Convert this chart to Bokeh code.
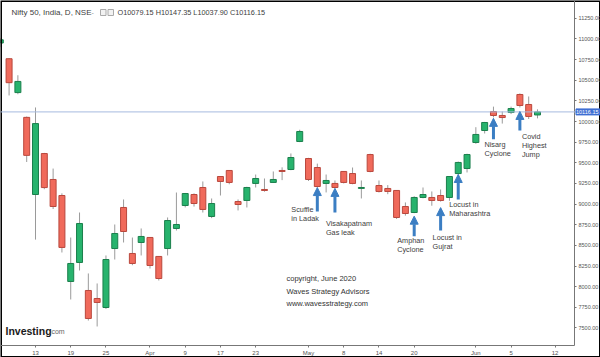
from bokeh.plotting import figure
from bokeh.models import (Range1d, FixedTicker, Span, Label, Arrow, NormalHead, ColumnDataSource,
                          LinearAxis)
from bokeh.embed import file_html
from bokeh.resources import INLINE

# ---------------- data ----------------
dates = ["Mar 6", "Mar 9", "Mar 11", "Mar 12", "Mar 13", "Mar 16", "Mar 17", "Mar 18", "Mar 19", "Mar 20",
         "Mar 23", "Mar 24", "Mar 25", "Mar 26", "Mar 27", "Mar 30", "Mar 31", "Apr 1", "Apr 3", "Apr 7",
         "Apr 8", "Apr 9", "Apr 13", "Apr 15", "Apr 16", "Apr 17", "Apr 20", "Apr 21", "Apr 22", "Apr 23",
         "Apr 24", "Apr 27", "Apr 28", "Apr 29", "Apr 30", "May 4", "May 5", "May 6", "May 7", "May 8",
         "May 11", "May 12", "May 13", "May 14", "May 15", "May 18", "May 19", "May 20", "May 21", "May 22",
         "May 26", "May 27", "May 28", "May 29", "Jun 1", "Jun 2", "Jun 3", "Jun 4", "Jun 5", "Jun 8",
         "Jun 9", "Jun 10"]
opens = [10950, 10760, 10350, 10050, 9116, 9612, 9298, 9104, 8063, 8293,
         7954, 7857, 7748, 8462, 8959, 8402, 8535, 8596, 8366, 8462,
         8705, 8983, 9116, 9201, 8850, 9334, 9407, 9031, 9044, 9250,
         9177, 9262, 9407, 9419, 9758, 9552, 9443, 9250, 9250, 9395,
         9370, 9190, 9600, 9225, 9189, 9165, 8971, 8898, 9080, 9080,
         9104, 9080, 9370, 9431, 9746, 9891, 10121, 10073, 10109, 10327,
         10206, 10079.15]
highs = [11010, 10765, 10560, 10060, 10170, 9620, 9430, 9130, 8595, 8898,
         8160, 8039, 8378, 8753, 9056, 8595, 8705, 8600, 8370, 8838,
         9140, 9135, 9130, 9274, 9068, 9340, 9410, 9056, 9210, 9358,
         9310, 9395, 9445, 9613, 9900, 9560, 9490, 9358, 9286, 9400,
         9443, 9286, 9610, 9286, 9230, 9170, 9020, 9095, 9201, 9153,
         9177, 9340, 9515, 9610, 9931, 9995, 10180, 10121, 10180, 10340,
         10303, 10147.35]
lows = [10900, 10315, 10330, 9510, 8570, 9180, 8940, 8414, 7845, 8196,
        7590, 7518, 7730, 8329, 8535, 8260, 8378, 8220, 8075, 8378,
        8680, 8960, 8970, 8898, 8830, 9104, 9240, 8923, 8959, 9201,
        9150, 9255, 9290, 9410, 9750, 9280, 9200, 9141, 9190, 9250,
        9240, 9068, 9385, 9140, 9120, 8820, 8860, 8890, 9070, 8980,
        9030, 9040, 9310, 9383, 9730, 9855, 10050, 9975, 10090, 10170,
        10030, 10037.90]
closes = [10989, 10470, 10485, 9590, 9975, 9200, 8971, 8475, 8281, 8765,
          7615, 7809, 8329, 8644, 8668, 8281, 8608, 8257, 8099, 8801,
          8753, 9128, 9007, 8935, 9007, 9274, 9262, 8995, 9201, 9310,
          9165, 9298, 9395, 9564, 9879, 9298, 9213, 9286, 9201, 9262,
          9250, 9201, 9395, 9153, 9153, 8838, 8886, 9080, 9116, 9044,
          9044, 9334, 9504, 9600, 9843, 9988, 10073, 10048, 10157, 10194,
          10061, 10116.15]

x_tick_dates = ["Mar 13", "Mar 19", "Mar 25", "Apr 1", "Apr 9", "Apr 17", "Apr 23", "May 4", "May 8",
                "May 14", "May 20", "Jun 1", "Jun 5", "Jun 12"]
x_tick_labels = ["13", "19", "25", "Apr", "9", "17", "23", "May", "8", "14", "20", "Jun", "5", "12"]
y_ticks = [7500, 7750, 8000, 8250, 8500, 8750, 9000, 9250, 9500, 9750, 10000, 10250, 10500, 10750, 11000, 11250]

event_dates = ["May 5", "May 7", "May 20", "May 26", "May 28", "Jun 3", "Jun 8"]
event_labels = [["Scuffle", "in Ladak"], ["Visakapatnam", "Gas leak"], ["Amphan", "Cyclone"],
                ["Locust in", "Gujrat"], ["Locust in", "Maharashtra"], ["Nisarg", "Cyclone"],
                ["Covid", "Highest", "Jump"]]

title_text = "Nifty 50, India, D, NSE"
copyright_lines = ["copyright, June 2020", "Waves Strategy Advisors", "www.wavesstrategy.com"]

# ---------------- layout (pixel <-> data mapping) ----------------
W, H = 600, 357
AX_X, AX_Y = 574, 345          # pixel position of the price axis and the time axis
PX_PER_BAR = 8.807
PX_PER_PT = 0.08259


def xd(px):
    return 4 + (px - 35) / PX_PER_BAR


def yd(py):
    return 10000 - (py - 121) / PX_PER_PT


def ypx(v):
    return 121 - (v - 10000) * PX_PER_PT


def xpx(i):
    return 35 + (i - 4) * PX_PER_BAR


all_dates = dates + ["Jun 11", "Jun 12", "Jun 15", "Jun 16", "Jun 17"]
idx = list(range(len(dates)))

UP_FILL, UP_LINE = "#27b36d", "#1b7f4c"
DN_FILL, DN_LINE = "#f06a5b", "#b9483d"
WICK = "#9a9a9a"
TXT = "#404040"
AXC = "#777777"
ARROW = "#3b7ec3"
FONT = "Liberation Sans"

p = figure(width=W, height=H, output_backend="svg", toolbar_location=None,
           x_range=Range1d(xd(0), xd(W)), y_range=Range1d(yd(H), yd(0)),
           x_axis_location=None, y_axis_location=None,
           min_border=0, min_border_left=0, min_border_right=0, min_border_top=0, min_border_bottom=0)
p.xgrid.visible = False
p.ygrid.visible = False
p.outline_line_color = None
p.background_fill_color = "white"
p.border_fill_color = "white"

# reference line at last close
p.add_layout(Span(location=closes[-1], dimension="width", line_color="#a6badf", line_width=1))

up = [c >= o for o, c in zip(opens, closes)]
src = ColumnDataSource(dict(
    x=idx, o=opens, h=highs, l=lows, c=closes,
    top=[max(o, c) for o, c in zip(opens, closes)],
    bot=[min(o, c) for o, c in zip(opens, closes)],
    fill=[UP_FILL if u else DN_FILL for u in up],
    line=[UP_LINE if u else DN_LINE for u in up],
))
p.segment(x0="x", y0="h", x1="x", y1="l", source=src, line_color=WICK, line_width=1)
p.vbar(x="x", top="top", bottom="bot", width=0.68, source=src,
       fill_color="fill", line_color="line", line_width=1)

# price axis (right)
yax = LinearAxis(fixed_location=xd(AX_X), bounds=(yd(AX_Y), yd(0)))
yax.ticker = FixedTicker(ticks=y_ticks)
yax.major_label_overrides = {t: f"{t:.2f}" for t in y_ticks}
yax.major_label_text_font_size = "5.5px"
yax.major_label_text_color = "#555555"
yax.major_label_text_font = FONT
yax.axis_line_color = AXC
yax.major_tick_line_color = AXC
yax.major_tick_out = 2
yax.major_tick_in = 0
yax.minor_tick_line_color = None
yax.major_label_standoff = 2
p.add_layout(yax, "right")

# time axis (below)
xt = [all_dates.index(d) for d in x_tick_dates]
xax = LinearAxis(fixed_location=yd(AX_Y), bounds=(xd(0), xd(AX_X)))
xax.ticker = FixedTicker(ticks=xt)
xax.major_label_overrides = {t: lab for t, lab in zip(xt, x_tick_labels)}
xax.major_label_text_font_size = "6px"
xax.major_label_text_color = "#555555"
xax.major_label_text_font = FONT
xax.axis_line_color = AXC
xax.major_tick_line_color = AXC
xax.major_tick_out = 2
xax.major_tick_in = 0
xax.minor_tick_line_color = None
xax.major_label_standoff = 2
p.add_layout(xax, "below")

# price tag on the price axis
p.add_layout(Label(x=xd(AX_X + 1.5), y=closes[-1], text=f" {closes[-1]:.2f} ", text_font=FONT,
                   text_font_size="5.5px", text_color="white", text_baseline="middle",
                   background_fill_color="#3f6fd3", border_line_color="#3f6fd3", level="overlay"))

# header
p.add_layout(Label(x=xd(11), y=yd(12), text=title_text, text_font=FONT, text_font_size="8px",
                   text_color=TXT, text_baseline="middle"))
p.add_layout(Label(x=xd(91), y=yd(12), text="-", text_font=FONT, text_font_size="7px",
                   text_color="#999999", text_baseline="middle"))
p.quad(left=[xd(100), xd(107.5)], right=[xd(105.5), xd(113)], top=[yd(9), yd(9)],
       bottom=[yd(15), yd(15)], fill_color="#f2f2f2", line_color="#aaaaaa", line_width=1)
ohlc = f"O{opens[-1]:.2f} H{highs[-1]:.2f} L{lows[-1]:.2f} C{closes[-1]:.2f}"
p.add_layout(Label(x=xd(117), y=yd(12), text=ohlc, text_font=FONT, text_font_size="7.3px",
                   text_color=TXT, text_baseline="middle"))

# events: arrows and texts (layout offsets in px)
tip_gap = [0, 0, 3, 6, -4, 1, 4]
arrow_len = [24, 24, 20, 23, 25, 21, 19]
text_dx = [-26, -9, -17, -8, -9, -9, 2]
text_dy = [-2, 11, 4, 7, 5, 5, 6]
for k, d in enumerate(event_dates):
    i = dates.index(d)
    tip = ypx(lows[i]) + tip_gap[k]
    tail = tip + arrow_len[k]
    p.add_layout(Arrow(end=NormalHead(size=8, fill_color=ARROW, line_color=ARROW),
                       x_start=i, y_start=yd(tail), x_end=i, y_end=yd(tip),
                       line_color=ARROW, line_width=3))
    for j, line in enumerate(event_labels[k]):
        p.add_layout(Label(x=xd(xpx(i) + text_dx[k]), y=yd(tail + text_dy[k] + 9 * j), text=line,
                           text_font=FONT, text_font_size="7.3px", text_color=TXT,
                           text_baseline="middle"))

# copyright block
for j, line in enumerate(copyright_lines):
    p.add_layout(Label(x=xd(286), y=yd(278 + 12.5 * j), text=line, text_font=FONT,
                       text_font_size="7.5px", text_color="#333333", text_baseline="middle"))

# Investing.com logo
p.add_layout(Label(x=xd(5), y=yd(330), text="Investing", text_font=FONT, text_font_size="10.5px",
                   text_font_style="bold", text_color="#1a1a1a", text_baseline="middle"))
p.add_layout(Label(x=xd(49), y=yd(331), text=".com", text_font=FONT, text_font_size="7px",
                   text_color="#666666", text_baseline="middle"))

# outer black frame of the picture
p.quad(left=[xd(0)], right=[xd(W)], top=[yd(0)], bottom=[yd(H)], fill_color=None,
       line_color="black", line_width=3)

open("out.html", "w").write(file_html(p, INLINE))
